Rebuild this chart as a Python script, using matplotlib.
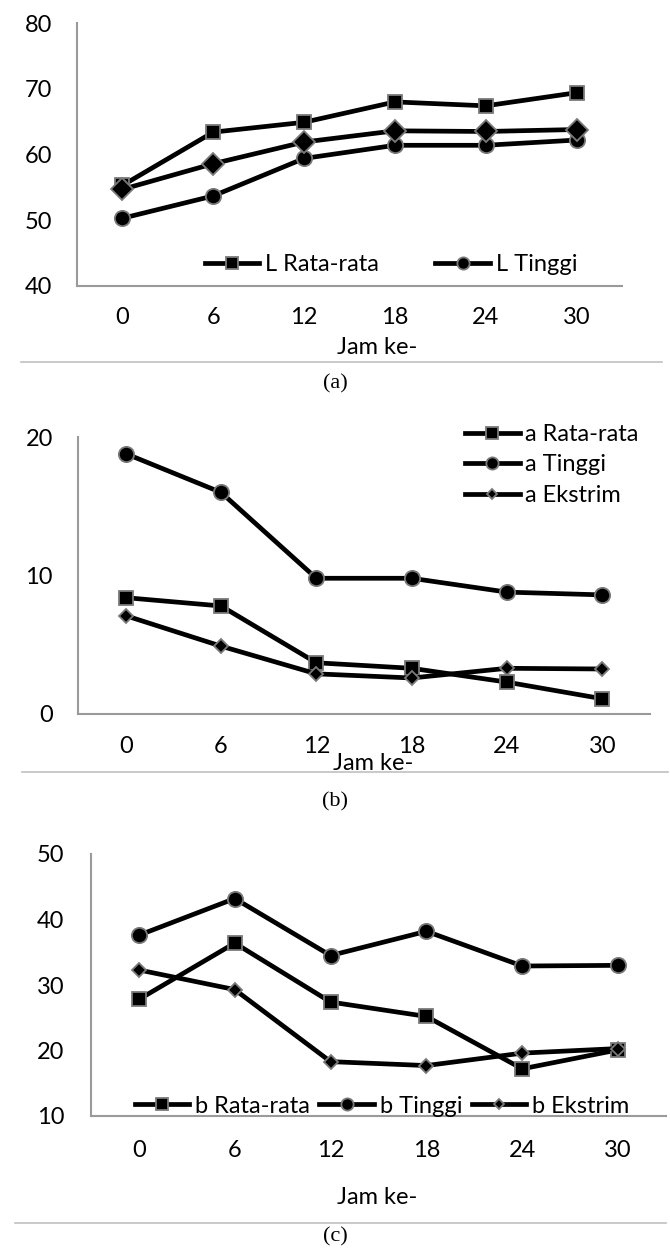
import matplotlib
matplotlib.use("Agg")
import matplotlib.pyplot as plt
from matplotlib.lines import Line2D

plt.rcParams['font.family'] = ['Lato', 'DejaVu Sans']

# ---------------- data ----------------
jam = ["0", "6", "12", "18", "24", "30"]

L_rata = [55.3, 63.4, 64.9, 68.0, 67.4, 69.4]
L_tinggi = [50.3, 53.7, 59.4, 61.4, 61.4, 62.2]
L_ekstrim = [54.7, 58.6, 61.9, 63.6, 63.5, 63.8]

a_rata = [8.4, 7.8, 3.7, 3.3, 2.3, 1.1]
a_tinggi = [18.8, 16.0, 9.8, 9.8, 8.8, 8.6]
a_ekstrim = [7.1, 4.9, 2.9, 2.6, 3.3, 3.25]

b_rata = [27.8, 36.4, 27.4, 25.2, 17.2, 20.1]
b_tinggi = [37.6, 43.2, 34.5, 38.2, 32.9, 33.0]
b_ekstrim = [32.3, 29.3, 18.3, 17.7, 19.6, 20.3]

W, H = 670, 1249
fig = plt.figure(figsize=(W / 100, H / 100), dpi=100)

def rect(l, r, t, b):
    return [l / W, 1 - b / H, (r - l) / W, (b - t) / H]

FS = 17
EDGE = '#7a7a7a'
LW = 3.4

def style_axes(ax, ylim, yticks, xpad, ypad):
    x = list(range(len(jam)))
    ax.set_xlim(-0.5, len(jam) - 0.5)
    ax.set_ylim(*ylim)
    ax.set_xticks(x)
    ax.set_xticklabels(jam)
    ax.set_yticks(yticks)
    ax.set_yticklabels([str(v) for v in yticks])
    for s in ['top', 'right']:
        ax.spines[s].set_visible(False)
    for s in ['left', 'bottom']:
        ax.spines[s].set_color('#9a9a9a')
        ax.spines[s].set_linewidth(1.5)
    ax.tick_params(axis='x', length=0, pad=xpad, labelsize=FS)
    ax.tick_params(axis='y', length=0, pad=ypad, labelsize=FS)

def plot_series(ax, vals, marker, ms, label):
    x = list(range(len(jam)))
    ax.plot(x, vals, color='black', lw=LW, marker=marker, ms=ms,
            mfc='black', mec=EDGE, mew=1.3, label=label, solid_joinstyle='round')

def sep(y, x0, x1):
    fig.add_artist(Line2D([x0 / W, x1 / W], [1 - y / H, 1 - y / H],
                          color='#c0c0c0', lw=1.2))

def txt(x, y, s, **kw):
    fig.text(x / W, 1 - y / H, s, ha='center', va='center', **kw)

# ---------------- (a) ----------------
axa = fig.add_axes(rect(77, 622, 23, 286))
plot_series(axa, L_rata, 's', 10, 'L Rata-rata')
plot_series(axa, L_tinggi, 'o', 11, 'L Tinggi')
plot_series(axa, L_ekstrim, 'D', 11, None)
style_axes(axa, (40, 80), [40, 50, 60, 70, 80], 15, 18)
h, l = axa.get_legend_handles_labels()
axa.legend(h[:2], l[:2], ncol=2, loc='center', bbox_to_anchor=(0.576, 0.08),
           frameon=False, fontsize=FS, handlelength=2.3, handletextpad=0.25,
           columnspacing=2.4, borderpad=0, markerscale=0.8)
txt(377, 348, 'Jam ke-', fontsize=FS)
sep(362, 21, 662)
txt(335, 384, '(a)', fontsize=16, family='Liberation Serif')

# ---------------- (b) ----------------
axb = fig.add_axes(rect(78, 650, 437, 714))
plot_series(axb, a_rata, 's', 10, 'a Rata-rata')
plot_series(axb, a_tinggi, 'o', 11, 'a Tinggi')
plot_series(axb, a_ekstrim, 'D', 7, 'a Ekstrim')
style_axes(axb, (0, 20), [0, 10, 20], 16, 18)
axb.legend(loc='upper left', bbox_to_anchor=(0.677, 1.047), frameon=False,
           fontsize=FS, handlelength=2.3, handletextpad=0.25, labelspacing=0.4,
           borderpad=0, borderaxespad=0, markerscale=0.8)
txt(373, 764, 'Jam ke-', fontsize=FS)
sep(772, 22, 668)
txt(335, 802, '(b)', fontsize=16, family='Liberation Serif')

# ---------------- (c) ----------------
axc = fig.add_axes(rect(91, 666, 854, 1116))
plot_series(axc, b_rata, 's', 10, 'b Rata-rata')
plot_series(axc, b_tinggi, 'o', 11, 'b Tinggi')
plot_series(axc, b_ekstrim, 'D', 7, 'b Ekstrim')
style_axes(axc, (10, 50), [10, 20, 30, 40, 50], 17, 19)
axc.legend(ncol=3, loc='center', bbox_to_anchor=(0.506, 0.038), frameon=False,
           fontsize=FS, handlelength=2.3, handletextpad=0.25, columnspacing=0.4,
           borderpad=0, markerscale=0.8)
txt(377, 1198, 'Jam ke-', fontsize=FS)
sep(1223, 15, 666)
txt(335, 1237, '(c)', fontsize=16, family='Liberation Serif')

fig.savefig('out.png', dpi=100)
